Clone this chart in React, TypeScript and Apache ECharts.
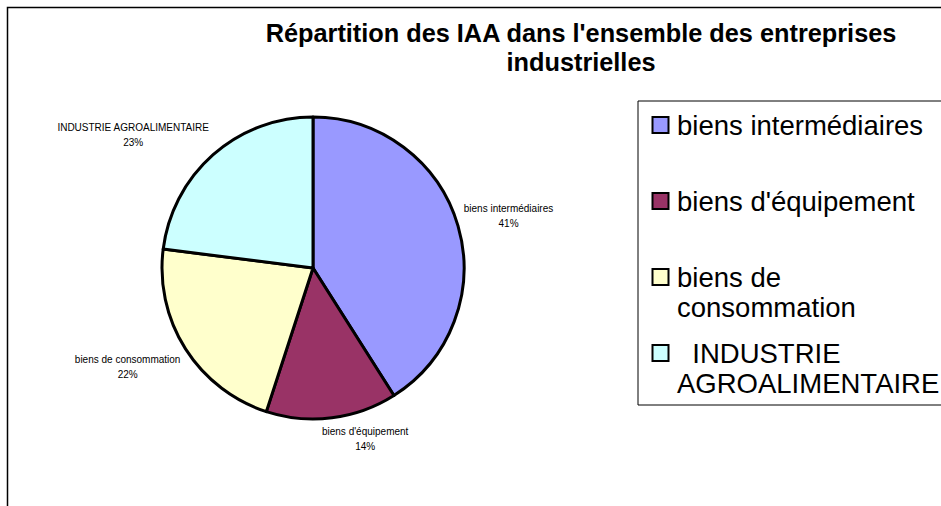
import React, { useEffect, useRef } from "react";
import * as echarts from "echarts";

const categories = [
  "biens intermédiaires",
  "biens d'équipement",
  "biens de consommation",
  "INDUSTRIE AGROALIMENTAIRE",
];
const values = [41, 14, 22, 23];
const colors = ["#9999FF", "#993366", "#FFFFCC", "#CCFFFF"];
const legendLabels = [
  "biens intermédiaires",
  "biens d'équipement",
  "biens de\nconsommation",
  "  INDUSTRIE\nAGROALIMENTAIRE",
];
const titleText =
  "Répartition des IAA dans l'ensemble des entreprises\nindustrielles";

const FONT = "'Liberation Sans', Arial, Helvetica, sans-serif";

export default function App() {
  const ref = useRef<HTMLDivElement>(null);

  useEffect(() => {
    if (!ref.current) return;
    const chart = echarts.init(ref.current, undefined, { renderer: "svg" });
    const cx = 313;
    const cy = 268;
    const R = 151;
    const total = values.reduce((a, b) => a + b, 0);

    const legendStartY = 125;
    const legendStep = 76;
    const legendGraphics: any[] = [
      {
        type: "rect",
        shape: { x: 638, y: 101, width: 320, height: 304 },
        style: { fill: "#fff", stroke: "#000", lineWidth: 1 },
        z: 1,
      },
    ];
    legendLabels.forEach((lab, i) => {
      const y = legendStartY + i * legendStep;
      legendGraphics.push({
        type: "rect",
        shape: { x: 652.5, y: y - 8, width: 16, height: 16 },
        style: { fill: colors[i], stroke: "#000", lineWidth: 2 },
        z: 2,
      });
      legendGraphics.push({
        type: "text",
        x: 677,
        y: y - 15,
        style: {
          text: lab,
          fontSize: 27.5,
          fontFamily: FONT,
          lineHeight: 30,
          fill: "#000",
          verticalAlign: "top",
          align: "left",
        },
        z: 2,
      });
    });

    chart.setOption({
      animation: false,
      backgroundColor: "#fff",
      title: {
        text: titleText,
        left: 576,
        top: 13,
        textAlign: "center",
        textStyle: {
          fontSize: 25.3,
          fontWeight: "bold",
          fontFamily: FONT,
          color: "#000",
          lineHeight: 29,
        },
      },
      graphic: [
        {
          type: "polyline",
          shape: { points: [[7.5, 506], [7.5, 7.5], [941, 7.5]] },
          style: { stroke: "#000", lineWidth: 1.5, fill: "none" },
        },
        ...legendGraphics,
      ],
      series: [
        {
          type: "pie",
          center: [cx, cy],
          radius: R,
          startAngle: 90,
          clockwise: true,
          percentPrecision: 0,
          avoidLabelOverlap: false,
          itemStyle: { borderColor: "#000", borderWidth: 3 },
          label: {
            show: true,
            position: "outside",
            formatter: "{b}\n{d}%",
            fontSize: 10,
            lineHeight: 15,
            fontFamily: FONT,
            color: "#000",
          },
          labelLine: { show: false },
          labelLayout: (params: any) => {
            const i = params.dataIndex;
            let before = 0;
            for (let k = 0; k < i; k++) before += values[k];
            const frac = (before + values[i] / 2) / total;
            const theta = frac * Math.PI * 2;
            const dx = Math.sin(theta);
            const dy = -Math.cos(theta);
            const w = params.labelRect.width;
            const h = params.labelRect.height;
            const px = cx + dx * (R + 6);
            const py = cy + dy * (R + 6);
            const clamp = (v: number, k: number) =>
              Math.max(-1, Math.min(1, v * k));
            return {
              x: px + clamp(dx, 6) * w / 2,
              y: py + clamp(dy, 2) * h / 2,
              align: "center",
              verticalAlign: "middle",
            };
          },
          data: categories.map((name, i) => ({
            name,
            value: values[i],
            itemStyle: { color: colors[i] },
          })),
        },
      ],
    });
    return () => chart.dispose();
  }, []);

  return (
    <div
      ref={ref}
      style={{ position: "fixed", left: 0, top: 0, width: 941, height: 506 }}
    />
  );
}
